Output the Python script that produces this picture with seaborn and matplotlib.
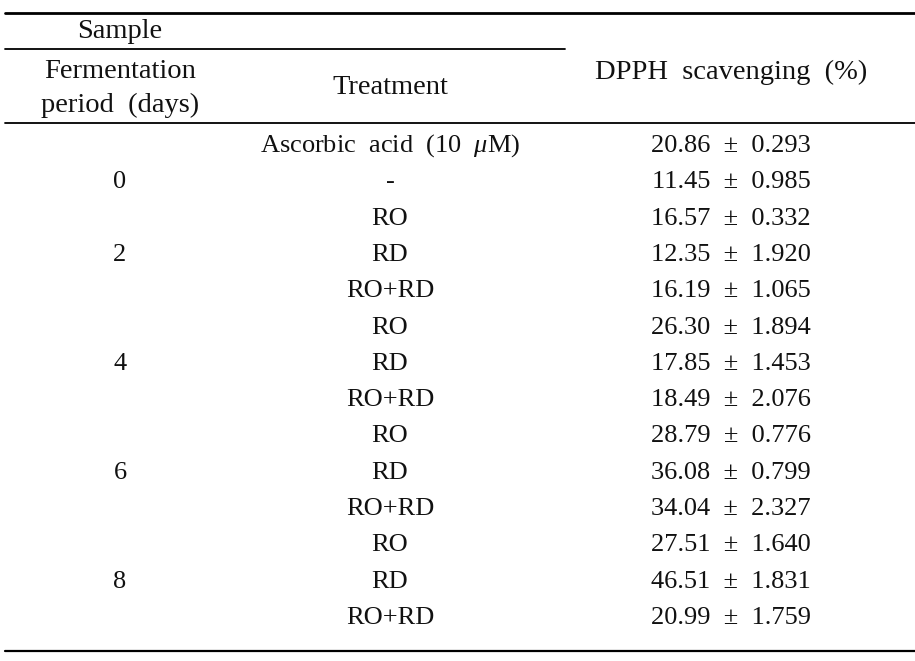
import matplotlib
matplotlib.use("Agg")
import matplotlib.pyplot as plt
import seaborn as sns

# table contents
periods = ["0", "2", "4", "6", "8"]
period_rows = [1, 3, 6, 9, 12]  # row index where each period label sits
treatments = ["Ascorbic  acid  (10  $\\mu$M)", "-",
              "RO", "RD", "RO+RD",
              "RO", "RD", "RO+RD",
              "RO", "RD", "RO+RD",
              "RO", "RD", "RO+RD"]
dpph_mean = [20.86, 11.45, 16.57, 12.35, 16.19, 26.30, 17.85, 18.49,
             28.79, 36.08, 34.04, 27.51, 46.51, 20.99]
dpph_sd = [0.293, 0.985, 0.332, 1.920, 1.065, 1.894, 1.453, 2.076,
           0.776, 0.799, 2.327, 1.640, 1.831, 1.759]

W, H = 915, 661
sns.set_theme(style="white")
plt.rcParams["font.family"] = ["Liberation Serif", "DejaVu Serif"]
plt.rcParams["mathtext.fontset"] = "custom"
plt.rcParams["mathtext.it"] = "Liberation Serif:italic"

fig = plt.figure(figsize=(W / 100, H / 100), dpi=100)
ax = fig.add_axes([0, 0, 1, 1])
ax.set_xlim(0, W)
ax.set_ylim(H, 0)
ax.axis("off")

#column centres and row layout (pixels)
x_per, x_trt, x_val = 120, 390, 731
y0, step = 146, 36.3
txt = dict(ha="center", va="center", fontsize=19, color="#111111")
hdr = dict(txt, fontsize=20.5)

#rules
sns.lineplot(x=[5, W], y=[13, 13], ax=ax, color="black", lw=2.0)
sns.lineplot(x=[5, 565], y=[49, 49], ax=ax, color="black", lw=1.3)
sns.lineplot(x=[5, W], y=[123, 123], ax=ax, color="black", lw=1.3)
sns.lineplot(x=[5, W], y=[651, 651], ax=ax, color="black", lw=1.6)

#header
ax.text(x_per, 31, "Sample", **hdr)
ax.text(x_per, 72, "Fermentation", **hdr)
ax.text(x_per, 105, "period  (days)", **hdr)
ax.text(x_trt, 88, "Treatment", **hdr)
ax.text(x_val, 72, "DPPH  scavenging  (%)", **hdr)

#body
for p, r in zip(periods, period_rows):
    ax.text(x_per, y0 + r * step, p, **txt)
for i, (t, m, s) in enumerate(zip(treatments, dpph_mean, dpph_sd)):
    y = y0 + i * step
    ax.text(x_trt, y, t, **txt)
    ax.text(x_val, y, f"{m:.2f}  \u00b1  {s:.3f}", **txt)

fig.savefig("out.png", dpi=100)
